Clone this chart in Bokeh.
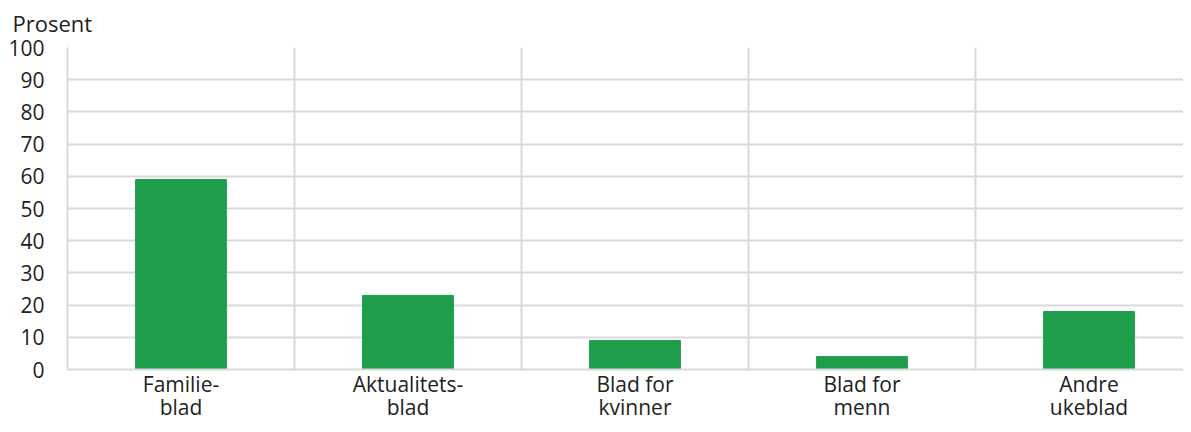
from bokeh.plotting import figure
from bokeh.models import FixedTicker, Range1d, ColumnDataSource
from bokeh.embed import file_html
from bokeh.resources import INLINE

categories = ["Familie-\nblad", "Aktualitets-\nblad", "Blad for\nkvinner", "Blad for\nmenn", "Andre\nukeblad"]
values = [59, 23, 9, 4, 18]
y_ticks = [0, 10, 20, 30, 40, 50, 60, 70, 80, 90, 100]
y_title = "Prosent"

FONT = "Open Sans"
GRID = "#d9d9d9"
TEXT = "#222222"
GREEN = "#1e9d4b"

xs = [i + 0.5 for i in range(len(categories))]
src = ColumnDataSource(dict(x=xs, top=values))

W, H = 1183, 424
left, top, bottom = 67, 47, 54
cat_w = 227.0
x_end = (W - left) / cat_w

p = figure(width=W, height=H, output_backend="svg", toolbar_location=None,
           x_range=Range1d(0, x_end), y_range=Range1d(0, 100),
           min_border_left=left, min_border_right=0, min_border_top=top,
           min_border_bottom=bottom, title=y_title)
p.outline_line_color = None
p.background_fill_color = "white"
p.border_fill_color = "white"

p.title.align = "left"
p.title.vertical_align = "top"
p.title.offset = -55
p.title.text_font = FONT
p.title.text_font_size = "22px"
p.title.text_font_style = "normal"
p.title.text_color = TEXT
p.title.standoff = 15

p.vbar(x="x", top="top", width=0.4, bottom=0, source=src,
       fill_color=GREEN, line_color=GREEN)

p.yaxis.ticker = FixedTicker(ticks=y_ticks)
p.xaxis.ticker = FixedTicker(ticks=xs)
p.xaxis.major_label_overrides = {x: c for x, c in zip(xs, categories)}

for ax in (p.xaxis, p.yaxis):
    ax.axis_line_color = GRID
    ax.axis_line_width = 2
    ax.major_tick_line_color = None
    ax.minor_tick_line_color = None
    ax.major_tick_out = 0
    ax.major_tick_in = 0
    ax.minor_tick_out = 0
    ax.major_label_text_font = FONT
    ax.major_label_text_color = TEXT

p.yaxis.major_label_text_font_size = "21px"
p.yaxis.major_label_standoff = 23
p.xaxis.major_label_text_font_size = "21px"
p.xaxis.major_label_text_line_height = 0.85
p.xaxis.major_label_standoff = 0

p.ygrid.ticker = FixedTicker(ticks=y_ticks)
p.ygrid.grid_line_color = GRID
p.ygrid.grid_line_width = 2
p.xgrid.ticker = FixedTicker(ticks=[0, 1, 2, 3, 4, 5])
p.xgrid.grid_line_color = GRID
p.xgrid.grid_line_width = 2

open("out.html", "w").write(file_html(p, INLINE))
